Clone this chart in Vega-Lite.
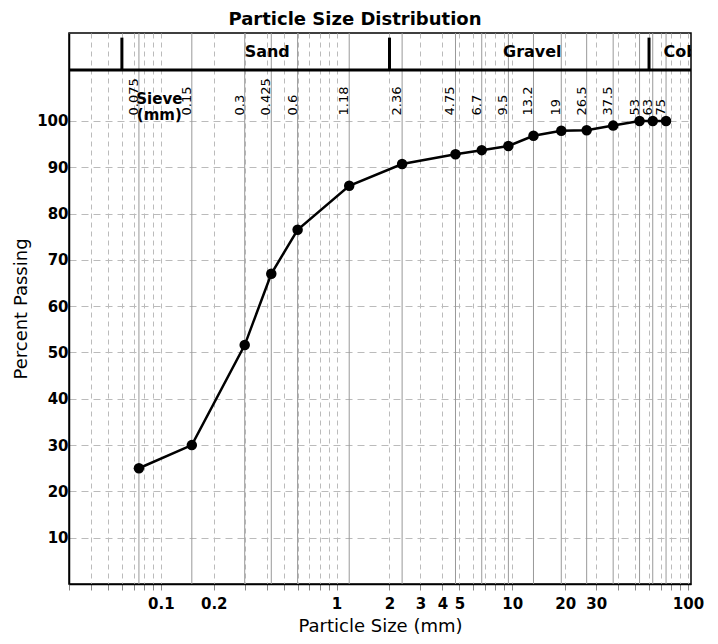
{
  "$schema": "https://vega.github.io/schema/vega-lite/v6.json",
  "width": 622,
  "height": 551,
  "autosize": {"type": "none"},
  "padding": {"left": 69, "top": 33, "right": 27, "bottom": 60},
  "background": "white",
  "config": {
    "font": "DejaVu Sans",
    "view": {"stroke": "black", "strokeWidth": 1.5}
  },
  "title": {
    "text": "Particle Size Distribution",
    "font": "DejaVu Sans",
    "fontSize": 18,
    "fontWeight": "bold",
    "color": "black",
    "anchor": "middle",
    "dx": -25,
    "dy": 18,
    "offset": 8,
    "baseline": "alphabetic"
  },
  "datasets": {
    "sieve": [
      {"size": 0.075, "pct": 25, "label": "0.075"},
      {"size": 0.15, "pct": 30, "label": "0.15"},
      {"size": 0.3, "pct": 51.6, "label": "0.3"},
      {"size": 0.425, "pct": 67, "label": "0.425"},
      {"size": 0.6, "pct": 76.5, "label": "0.6"},
      {"size": 1.18, "pct": 86, "label": "1.18"},
      {"size": 2.36, "pct": 90.7, "label": "2.36"},
      {"size": 4.75, "pct": 92.8, "label": "4.75"},
      {"size": 6.7, "pct": 93.7, "label": "6.7"},
      {"size": 9.5, "pct": 94.6, "label": "9.5"},
      {"size": 13.2, "pct": 96.8, "label": "13.2"},
      {"size": 19, "pct": 97.9, "label": "19"},
      {"size": 26.5, "pct": 98, "label": "26.5"},
      {"size": 37.5, "pct": 99, "label": "37.5"},
      {"size": 53, "pct": 100, "label": "53"},
      {"size": 63, "pct": 100, "label": "63"},
      {"size": 75, "pct": 100, "label": "75"}
    ],
    "bounds": [
      {"size": 0.06, "lo": 111, "hi": 118},
      {"size": 2, "lo": 111, "hi": 118},
      {"size": 60, "lo": 111, "hi": 118}
    ],
    "divider": [{"pct": 111}],
    "zones": [
      {"size": 0.403, "pct": 115, "name": "Sand"},
      {"size": 13.0, "pct": 115, "name": "Gravel"},
      {"size": 116, "pct": 115, "name": "Cobbles"}
    ],
    "sievetitle": [{"size": 0.098, "pct": 104.7, "t": "Sieve\n(mm)"}]
  },
  "layer": [
    {
      "data": {"name": "sieve"},
      "mark": {"type": "rule", "color": "#999999", "strokeWidth": 1},
      "encoding": {
        "x": {
          "field": "size",
          "type": "quantitative",
          "scale": {"type": "log", "domain": [0.03, 104], "nice": false},
          "axis": {
            "title": "Particle Size (mm)",
            "titleFont": "DejaVu Sans",
            "titleFontSize": 18,
            "titleFontWeight": "normal",
            "titleColor": "black",
            "titlePadding": 6,
            "values": [0.03, 0.04, 0.05, 0.06, 0.07, 0.08, 0.09, 0.1, 0.2, 0.3, 0.4, 0.5, 0.6, 0.7, 0.8, 0.9, 1, 2, 3, 4, 5, 6, 7, 8, 9, 10, 20, 30, 40, 50, 60, 70, 80, 90, 100],
            "labelExpr": "indexof([0.1, 0.2, 1, 2, 3, 4, 5, 10, 20, 30, 100], datum.value) >= 0 ? format(datum.value, '~g') : ''",
            "labelFont": "DejaVu Sans",
            "labelFontSize": 15,
            "labelFontWeight": "bold",
            "labelColor": "black",
            "labelPadding": 6,
            "labelFlush": false,
            "labelOverlap": false,
            "labelBound": false,
            "tickSize": 6,
            "tickColor": "#888888",
            "domainColor": "black",
            "domainWidth": 1.5,
            "grid": true,
            "gridColor": "#bbbbbb",
            "gridDash": [5, 4],
            "gridWidth": 1
          }
        }
      }
    },
    {
      "data": {"name": "divider"},
      "mark": {"type": "rule", "color": "black", "strokeWidth": 3},
      "encoding": {
        "y": {
          "field": "pct",
          "type": "quantitative",
          "scale": {"domain": [0, 119], "nice": false, "zero": false},
          "axis": {
            "title": "Percent Passing",
            "titleFont": "DejaVu Sans",
            "titleFontSize": 18,
            "titleFontWeight": "normal",
            "titleColor": "black",
            "titlePadding": 6,
            "values": [10, 20, 30, 40, 50, 60, 70, 80, 90, 100],
            "labelFont": "DejaVu Sans",
            "labelFontSize": 15,
            "labelFontWeight": "bold",
            "labelColor": "black",
            "labelPadding": 1,
            "ticks": false,
            "domainColor": "black",
            "domainWidth": 1.5,
            "grid": true,
            "gridColor": "#bbbbbb",
            "gridDash": [7, 5],
            "gridWidth": 1
          }
        }
      }
    },
    {
      "data": {"name": "bounds"},
      "mark": {"type": "rule", "color": "black", "strokeWidth": 3},
      "encoding": {
        "x": {"field": "size", "type": "quantitative"},
        "y": {"field": "lo", "type": "quantitative"},
        "y2": {"field": "hi"}
      }
    },
    {
      "data": {"name": "sieve"},
      "mark": {"type": "line", "color": "black", "strokeWidth": 2.5},
      "encoding": {
        "x": {"field": "size", "type": "quantitative"},
        "y": {"field": "pct", "type": "quantitative"}
      }
    },
    {
      "data": {"name": "sieve"},
      "mark": {"type": "point", "filled": true, "color": "black", "opacity": 1, "size": 110},
      "encoding": {
        "x": {"field": "size", "type": "quantitative"},
        "y": {"field": "pct", "type": "quantitative"}
      }
    },
    {
      "data": {"name": "sieve"},
      "mark": {"type": "text", "angle": 270, "align": "left", "baseline": "alphabetic", "fontSize": 13, "font": "DejaVu Sans", "color": "black", "dy": -1},
      "encoding": {
        "x": {"field": "size", "type": "quantitative"},
        "y": {"datum": 101.2, "type": "quantitative"},
        "text": {"field": "label"}
      }
    },
    {
      "data": {"name": "zones"},
      "mark": {"type": "text", "align": "center", "baseline": "middle", "fontSize": 16, "fontWeight": "bold", "font": "DejaVu Sans", "color": "black", "clip": true},
      "encoding": {
        "x": {"field": "size", "type": "quantitative"},
        "y": {"field": "pct", "type": "quantitative"},
        "text": {"field": "name"}
      }
    },
    {
      "data": {"name": "sievetitle"},
      "mark": {"type": "text", "align": "center", "baseline": "middle", "fontSize": 15, "fontWeight": "bold", "font": "DejaVu Sans", "color": "black", "lineBreak": "\n", "lineHeight": 16},
      "encoding": {
        "x": {"field": "size", "type": "quantitative"},
        "y": {"field": "pct", "type": "quantitative"},
        "text": {"field": "t"}
      }
    }
  ]
}
